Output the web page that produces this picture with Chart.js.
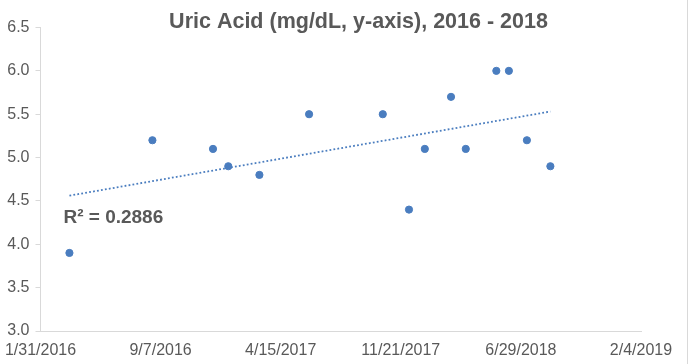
<!DOCTYPE html>
<html>
<head>
<meta charset="utf-8">
<script src="https://cdn.jsdelivr.net/npm/chart.js@4"></script>
<style>
  body { margin: 0; background: #fff; }
  canvas { display: block; }
</style>
</head>
<body>
<canvas id="chart" width="688" height="364"></canvas>
<script>
// Valores
const dates = ['2016-03-24', '2016-08-23', '2016-12-12', '2017-01-09', '2017-03-07', '2017-06-06',
  '2017-10-19', '2017-12-06', '2018-01-04', '2018-02-21', '2018-03-20', '2018-05-15',
  '2018-06-07', '2018-07-10', '2018-08-22'];
const uricAcid = [3.9, 5.2, 5.1, 4.9, 4.8, 5.5, 5.5, 4.4, 5.1, 5.7, 5.1, 6.0, 6.0, 5.2, 4.9];
const yTicks = [3.0, 3.5, 4.0, 4.5, 5.0, 5.5, 6.0, 6.5];
const xStart = '2016-01-31';
const xEnd = '2019-02-04';
const xStepDays = 220;
const titleText = 'Uric Acid (mg/dL, y-axis), 2016 - 2018';
const r2Text = 'R² = 0.2886';

const DAY = 86400000;
const startMs = Date.parse(xStart);
const toDay = d => Math.round((Date.parse(d) - startMs) / DAY);

const points = dates.map((d, i) => ({ x: toDay(d), y: uricAcid[i] }));

// Linha de tendência linear (mínimos quadrados)
const n = points.length;
const mx = points.reduce((s, p) => s + p.x, 0) / n;
const my = points.reduce((s, p) => s + p.y, 0) / n;
let sxy = 0, sxx = 0;
points.forEach(p => { sxy += (p.x - mx) * (p.y - my); sxx += (p.x - mx) ** 2; });
const slope = sxy / sxx;
const icpt = my - slope * mx;
const xs = points.map(p => p.x);
const trend = [Math.min(...xs), Math.max(...xs)].map(x => ({ x, y: icpt + slope * x }));

function fmtDate(v) {
  const d = new Date(startMs + v * DAY);
  return (d.getUTCMonth() + 1) + '/' + d.getUTCDate() + '/' + d.getUTCFullYear();
}

const grey = '#595959';
const axisGrey = '#d9d9d9';
const font = "'Liberation Sans', Arial, sans-serif";

// Título e rótulo R²
const labelsPlugin = {
  id: 'labels',
  afterDraw(chart) {
    const ctx = chart.ctx;
    const { x, y } = chart.scales;
    ctx.save();
    ctx.fillStyle = axisGrey;
    ctx.fillRect(687, 0, 1, chart.height);
    ctx.fillStyle = grey;
    ctx.font = 'bold 21.5px ' + font;
    ctx.textAlign = 'center';
    ctx.textBaseline = 'alphabetic';
    ctx.fillText(titleText, 358.5, 27.5);
    ctx.font = 'bold 19px ' + font;
    ctx.textAlign = 'left';
    ctx.fillText(r2Text, x.getPixelForValue(42), y.getPixelForValue(4.24));
    ctx.restore();
  }
};

new Chart(document.getElementById('chart'), {
  type: 'scatter',
  data: {
    datasets: [
      {
        label: 'Uric Acid',
        data: points,
        backgroundColor: '#4a7dbf',
        borderColor: '#4a7dbf',
        pointRadius: 3.6,
        pointHoverRadius: 3.6
      },
      {
        type: 'line',
        label: 'Trend',
        data: trend,
        borderColor: '#4a7dbf',
        borderWidth: 1.8,
        borderDash: [1.8, 2.2],
        pointRadius: 0,
        fill: false
      }
    ]
  },
  options: {
    responsive: false,
    animation: false,
    layout: { padding: { top: 27.5, right: 47, left: 0, bottom: 0 } },
    plugins: {
      legend: { display: false },
      title: { display: false },
      tooltip: { enabled: false }
    },
    scales: {
      x: {
        type: 'linear',
        min: 0,
        max: toDay(xEnd),
        afterFit: s => { s.height = 33; s.paddingLeft = 0; s.paddingRight = 0; },
        ticks: {
          stepSize: xStepDays,
          color: grey,
          font: { family: font, size: 16 },
          padding: 10,
          maxRotation: 0,
          autoSkip: false,
          callback: v => fmtDate(v)
        },
        grid: { display: true, drawOnChartArea: false, drawTicks: false, color: axisGrey },
        border: { color: axisGrey }
      },
      y: {
        min: yTicks[0],
        max: yTicks[yTicks.length - 1],
        afterFit: s => { s.width = 40.5; },
        afterBuildTicks: s => { s.ticks = yTicks.map(v => ({ value: v })); },
        ticks: {
          color: grey,
          font: { family: font, size: 16 },
          padding: 6,
          callback: v => v.toFixed(1)
        },
        grid: { display: true, drawOnChartArea: false, drawTicks: true, tickLength: 5, color: axisGrey },
        border: { color: axisGrey }
      }
    }
  },
  plugins: [labelsPlugin]
});
</script>
</body>
</html>
